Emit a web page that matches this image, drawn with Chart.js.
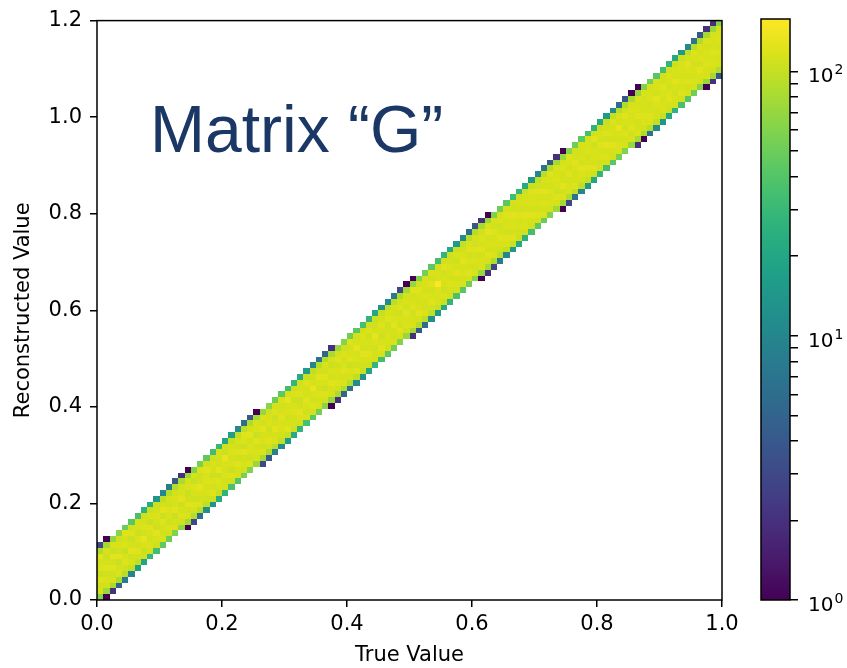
<!DOCTYPE html>
<html>
<head>
<meta charset="utf-8">
<script src="https://cdn.jsdelivr.net/npm/chart.js@4.4.1/dist/chart.umd.min.js"></script>
<style>
  html, body { margin: 0; padding: 0; background: #fff; }
  #stage { position: relative; width: 847px; height: 668px; overflow: hidden; }
  #stage canvas { position: absolute; top: 0; }
  #hist { left: 0; }
  #cbar { left: 722px; }
  #label {
    position: absolute; left: 150px; top: 96px;
    font-family: 'Liberation Sans', Arial, sans-serif; font-size: 66px;
    line-height: 1; color: #1b3766; white-space: nowrap;
  }
</style>
</head>
<body>
<div id="stage">
  <canvas id="hist" width="847" height="668"></canvas>
  <canvas id="cbar" width="125" height="668"></canvas>
  <div id="label">Matrix “G”</div>
</div>
<script>
// ---- binning ----
const xRange = [0, 1.0];
const yRange = [0, 1.2];
const nBinsX = 100;
const nBinsY = 100;

// ---- axis ticks ----
const xTicks = [0, 0.2, 0.4, 0.6, 0.8, 1.0];
const yTicks = [0, 0.2, 0.4, 0.6, 0.8, 1.0, 1.2];
const cbarMajor = [1, 10, 100];
const cbarExponents = ['0', '1', '2'];
const cbarMinor = [2, 3, 4, 5, 6, 7, 8, 9, 20, 30, 40, 50, 60, 70, 80, 90];

// first filled reco bin for each true-value column
const colStartRow = [
  0, 0, 1, 2, 3, 4, 5, 6, 7, 8, 9, 10,
  11, 11, 12, 13, 14, 15, 16, 17, 18, 19, 20, 21,
  22, 22, 23, 24, 25, 26, 27, 28, 29, 30, 31, 32,
  33, 33, 34, 35, 36, 37, 38, 39, 40, 41, 42, 43,
  44, 44, 45, 46, 47, 48, 49, 50, 51, 52, 53, 54,
  55, 55, 56, 57, 58, 59, 60, 61, 62, 63, 64, 65,
  66, 66, 67, 68, 69, 70, 71, 72, 73, 74, 75, 76,
  77, 77, 78, 79, 80, 81, 82, 83, 84, 85, 86, 87,
  88, 88, 89, 90
];

// entries per bin, going up the column from colStartRow
const colCounts = [
  [62, 116, 110, 121, 105, 117, 112, 125, 83, 3],
  [1, 73, 111, 118, 108, 122, 113, 104, 116, 76, 1],
  [2, 80, 114, 107, 121, 111, 127, 105, 115, 68, 0],
  [5, 84, 117, 112, 104, 124, 110, 116, 108, 63],
  [8, 89, 110, 120, 114, 102, 117, 112, 123, 49],
  [10, 100, 115, 108, 125, 113, 105, 119, 110, 41],
  [17, 99, 112, 122, 110, 117, 106, 114, 116, 36],
  [19, 109, 104, 116, 129, 110, 119, 112, 107, 26],
  [29, 112, 118, 109, 114, 123, 103, 115, 102, 23],
  [33, 108, 114, 125, 106, 111, 118, 110, 105, 14],
  [45, 115, 110, 113, 121, 104, 126, 111, 94, 10],
  [50, 110, 120, 107, 115, 118, 108, 113, 89, 8],
  [58, 117, 113, 105, 124, 112, 116, 110, 87, 4],
  [0, 68, 109, 119, 113, 106, 125, 115, 111, 81, 2],
  [1, 76, 116, 111, 123, 110, 104, 118, 112, 73, 1],
  [3, 87, 112, 122, 107, 114, 119, 103, 115, 59],
  [6, 94, 119, 110, 115, 128, 111, 107, 117, 54],
  [12, 95, 108, 116, 112, 120, 114, 124, 110, 45],
  [14, 105, 122, 111, 117, 106, 113, 116, 108, 33],
  [23, 103, 114, 119, 104, 125, 111, 109, 112, 29],
  [26, 113, 110, 117, 112, 114, 133, 105, 109, 19],
  [37, 109, 120, 106, 116, 111, 118, 113, 100, 17],
  [40, 116, 112, 123, 108, 119, 107, 115, 99, 11],
  [54, 111, 115, 110, 126, 105, 117, 121, 94, 6],
  [59, 119, 107, 114, 118, 111, 124, 113, 85, 4],
  [0, 72, 113, 116, 110, 121, 105, 117, 114, 77, 1],
  [3, 78, 118, 108, 115, 112, 125, 110, 117, 70, 0],
  [4, 83, 111, 123, 113, 107, 118, 115, 109, 64],
  [9, 91, 116, 112, 126, 110, 105, 120, 113, 50],
  [11, 98, 110, 118, 114, 122, 116, 109, 115, 44],
  [16, 101, 124, 113, 107, 118, 112, 130, 113, 34],
  [22, 107, 112, 110, 120, 114, 106, 117, 105, 28],
  [27, 111, 118, 125, 110, 104, 119, 112, 108, 22],
  [35, 114, 108, 115, 122, 112, 110, 123, 102, 16],
  [42, 110, 121, 111, 114, 134, 113, 107, 96, 10],
  [53, 115, 113, 119, 109, 116, 124, 111, 90, 7],
  [63, 112, 118, 106, 114, 121, 110, 116, 87, 5],
  [1, 70, 115, 112, 126, 111, 117, 106, 113, 80, 2],
  [2, 81, 110, 120, 113, 116, 108, 123, 111, 72, 0],
  [5, 85, 117, 109, 121, 114, 111, 118, 107, 62],
  [7, 90, 113, 118, 106, 123, 116, 110, 120, 51],
  [11, 96, 120, 110, 117, 112, 127, 113, 111, 42],
  [13, 103, 109, 116, 125, 110, 114, 118, 110, 35],
  [20, 108, 116, 123, 112, 115, 107, 119, 111, 27],
  [28, 110, 113, 109, 118, 129, 112, 108, 104, 20],
  [34, 113, 125, 114, 108, 116, 120, 111, 103, 13],
  [44, 111, 114, 118, 112, 107, 122, 115, 98, 11],
  [51, 116, 110, 113, 124, 117, 111, 114, 93, 8],
  [60, 114, 121, 111, 116, 108, 119, 113, 84, 3],
  [0, 72, 110, 118, 114, 122, 110, 116, 112, 78, 1],
  [2, 79, 116, 113, 109, 119, 115, 111, 126, 69, 1],
  [4, 87, 112, 124, 116, 110, 114, 121, 109, 60],
  [6, 93, 118, 111, 113, 117, 110, 116, 114, 53],
  [12, 97, 109, 121, 115, 111, 123, 108, 116, 43],
  [16, 102, 116, 114, 119, 158, 112, 115, 110, 34],
  [21, 105, 119, 108, 113, 117, 111, 125, 109, 27],
  [27, 109, 112, 120, 110, 114, 117, 110, 107, 21],
  [36, 112, 115, 110, 123, 113, 107, 118, 101, 15],
  [41, 114, 111, 116, 112, 126, 115, 110, 97, 11],
  [52, 112, 123, 113, 118, 110, 121, 114, 91, 6],
  [62, 115, 110, 117, 113, 120, 109, 112, 87, 4],
  [1, 69, 117, 114, 111, 125, 113, 118, 110, 80, 2],
  [2, 77, 113, 121, 109, 115, 112, 128, 114, 72, 1],
  [3, 86, 118, 110, 116, 113, 120, 109, 115, 58],
  [8, 92, 111, 116, 122, 112, 108, 117, 113, 52],
  [10, 99, 114, 119, 110, 116, 113, 123, 112, 42],
  [15, 104, 121, 111, 117, 114, 126, 111, 110, 32],
  [22, 106, 110, 115, 112, 120, 110, 116, 108, 28],
  [25, 111, 117, 114, 124, 109, 115, 113, 105, 22],
  [34, 110, 112, 122, 111, 117, 114, 119, 102, 14],
  [43, 113, 119, 110, 115, 112, 123, 108, 95, 10],
  [49, 117, 111, 118, 113, 127, 111, 116, 92, 7],
  [61, 111, 116, 112, 119, 110, 115, 121, 86, 4],
  [0, 74, 112, 120, 108, 115, 118, 113, 116, 76, 2],
  [1, 79, 118, 111, 124, 113, 110, 117, 112, 71, 1],
  [3, 85, 114, 116, 112, 122, 109, 115, 119, 62],
  [7, 95, 120, 113, 110, 118, 125, 112, 109, 51],
  [10, 96, 112, 117, 123, 111, 116, 113, 113, 43],
  [15, 102, 115, 121, 113, 110, 118, 114, 112, 35],
  [20, 107, 122, 111, 116, 114, 108, 124, 109, 26],
  [28, 109, 110, 118, 112, 120, 113, 116, 106, 20],
  [33, 112, 118, 113, 125, 109, 119, 111, 103, 16],
  [42, 110, 113, 123, 111, 116, 112, 118, 98, 11],
  [53, 114, 118, 112, 115, 131, 110, 114, 90, 6],
  [59, 116, 112, 119, 109, 114, 122, 111, 86, 4],
  [0, 71, 114, 111, 121, 116, 112, 118, 113, 79, 1],
  [2, 80, 119, 113, 109, 123, 115, 112, 117, 70, 1],
  [1, 84, 111, 117, 120, 112, 116, 110, 114, 60],
  [7, 91, 117, 122, 112, 109, 118, 115, 112, 52],
  [11, 98, 113, 110, 118, 124, 111, 116, 114, 41],
  [14, 103, 118, 116, 112, 114, 121, 109, 111, 34],
  [21, 108, 112, 123, 117, 111, 115, 119, 109, 27],
  [26, 110, 116, 111, 114, 126, 112, 115, 107, 21],
  [35, 111, 121, 113, 118, 112, 116, 114, 102, 15],
  [41, 115, 110, 120, 113, 117, 124, 112, 96, 11],
  [51, 113, 118, 112, 116, 111, 114, 122, 91, 7],
  [62, 112, 115, 125, 111, 118, 113, 116, 85, 4],
  [1, 72, 116, 112, 119, 114, 117, 111, 118, 79, 2],
  [2, 78, 111, 118, 114, 122, 112, 116, 113, 72, 2],
  [4, 86, 115, 113, 120, 110, 117, 114, 112, 62]
];

// viridis, sampled at 17 evenly spaced points
const viridisStops = [
  '#440154', '#48186a', '#472d7b', '#424086', '#3b528b', '#33638d',
  '#2c728e', '#26828e', '#21918c', '#1fa088', '#28ae80', '#3fbc73',
  '#5ec962', '#84d44b', '#addc30', '#d8e219', '#fde725'
];

const binW = (xRange[1] - xRange[0]) / nBinsX;
const binH = (yRange[1] - yRange[0]) / nBinsY;

// one point per non-empty bin, at the bin centre
const cells = [];
colCounts.forEach((col, c) => {
  col.forEach((n, i) => {
    if (n > 0) {
      cells.push({
        x: xRange[0] + (c + 0.5) * binW,
        y: yRange[0] + (colStartRow[c] + i + 0.5) * binH,
        v: n
      });
    }
  });
});
const vmin = Math.min(...cells.map(d => d.v));
const vmax = Math.max(...cells.map(d => d.v));

const rgbStops = viridisStops.map(h => [1, 3, 5].map(k => parseInt(h.substr(k, 2), 16)));
function viridis(t) {
  t = Math.max(0, Math.min(1, t));
  const f = t * (rgbStops.length - 1);
  const i = Math.min(Math.floor(f), rgbStops.length - 2);
  const u = f - i;
  const a = rgbStops[i], b = rgbStops[i + 1];
  const c = a.map((v, k) => Math.round(v + (b[k] - v) * u));
  return `rgb(${c[0]},${c[1]},${c[2]})`;
}
function logNorm(v) {
  return (Math.log(v) - Math.log(vmin)) / (Math.log(vmax) - Math.log(vmin));
}

Chart.defaults.font.family = "'DejaVu Sans', sans-serif";
Chart.defaults.font.size = 21;
Chart.defaults.color = '#000';

// paints every bin as a rectangle spanning its edges on the x/y scales
const heatmapPlugin = {
  id: 'heatmap',
  beforeDatasetsDraw(chart) {
    const { ctx, chartArea: a } = chart;
    const xs = chart.scales.x, ys = chart.scales.y;
    ctx.save();
    ctx.beginPath();
    ctx.rect(a.left, a.top, a.width, a.height);
    ctx.clip();
    chart.data.datasets[0].data.forEach(d => {
      const x0 = Math.round(xs.getPixelForValue(d.x - binW / 2));
      const x1 = Math.round(xs.getPixelForValue(d.x + binW / 2));
      const y0 = Math.round(ys.getPixelForValue(d.y - binH / 2));
      const y1 = Math.round(ys.getPixelForValue(d.y + binH / 2));
      ctx.fillStyle = viridis(logNorm(d.v));
      ctx.fillRect(x0, y1, x1 - x0, y0 - y1);
    });
    ctx.restore();
  }
};

// box around the plotting area
const framePlugin = {
  id: 'frame',
  afterDraw(chart) {
    const { ctx, chartArea: a } = chart;
    ctx.save();
    ctx.strokeStyle = '#000';
    ctx.lineWidth = 1.5;
    ctx.strokeRect(a.left, a.top, a.width, a.height);
    ctx.restore();
  }
};

new Chart(document.getElementById('hist'), {
  type: 'scatter',
  data: { datasets: [{ data: cells, pointRadius: 0, pointHoverRadius: 0 }] },
  options: {
    responsive: false,
    animation: false,
    devicePixelRatio: 1,
    events: [],
    layout: { padding: { top: 19, right: 125, bottom: 0, left: 0 } },
    plugins: { legend: { display: false }, tooltip: { enabled: false } },
    scales: {
      x: {
        type: 'linear', min: xRange[0], max: xRange[1],
        afterBuildTicks: s => { s.ticks = xTicks.map(v => ({ value: v })); },
        afterFit: s => { s.height = 68; },
        ticks: { callback: v => v.toFixed(1), padding: 5, maxRotation: 0, autoSkip: false },
        grid: { drawOnChartArea: false, tickLength: 7, color: '#000', lineWidth: 1.5 },
        border: { display: false },
        title: { display: true, text: 'True Value', padding: { top: 0, bottom: 0 } }
      },
      y: {
        type: 'linear', min: yRange[0], max: yRange[1],
        afterBuildTicks: s => { s.ticks = yTicks.map(v => ({ value: v })); },
        afterFit: s => { s.width = 97; },
        ticks: { callback: v => v.toFixed(1), padding: 8, autoSkip: false },
        grid: { drawOnChartArea: false, tickLength: 7, color: '#000', lineWidth: 1.5 },
        border: { display: false },
        title: { display: true, text: 'Reconstructed Value', padding: { top: 11, bottom: 0 } }
      }
    }
  },
  plugins: [heatmapPlugin, framePlugin]
});

// colour scale: gradient laid out along the log axis, outline and 10^n labels
const colorbarPlugin = {
  id: 'colorbar',
  beforeDatasetsDraw(chart) {
    const { ctx, chartArea: a } = chart;
    const ys = chart.scales.y;
    const g = ctx.createLinearGradient(0, ys.getPixelForValue(vmin), 0, ys.getPixelForValue(vmax));
    viridisStops.forEach((c, i) => g.addColorStop(i / (viridisStops.length - 1), c));
    ctx.save();
    ctx.fillStyle = g;
    ctx.fillRect(a.left, a.top, a.width, a.height);
    ctx.restore();
  },
  afterDraw(chart) {
    const { ctx, chartArea: a } = chart;
    const ys = chart.scales.y;
    ctx.save();
    ctx.strokeStyle = '#000';
    ctx.lineWidth = 1.5;
    ctx.strokeRect(a.left, a.top, a.width, a.height);
    ctx.fillStyle = '#000';
    ctx.textBaseline = 'alphabetic';
    cbarMajor.forEach((v, k) => {
      const py = ys.getPixelForValue(v);
      const x0 = a.right + 18;
      ctx.font = "20px 'DejaVu Sans'";
      ctx.fillText('10', x0, py + 11);
      const w = ctx.measureText('10').width;
      ctx.font = "14px 'DejaVu Sans'";
      ctx.fillText(cbarExponents[k], x0 + w + 1, py + 3);
    });
    ctx.restore();
  }
};

new Chart(document.getElementById('cbar'), {
  type: 'scatter',
  data: { datasets: [{ data: [] }] },
  options: {
    responsive: false,
    animation: false,
    devicePixelRatio: 1,
    events: [],
    layout: { padding: { top: 19, right: 0, bottom: 68, left: 39 } },
    plugins: { legend: { display: false }, tooltip: { enabled: false } },
    scales: {
      x: { display: false, min: 0, max: 1 },
      y: {
        type: 'logarithmic', position: 'right', min: vmin, max: vmax,
        afterBuildTicks: s => {
          s.ticks = [...cbarMajor, ...cbarMinor].sort((a, b) => a - b).map(v => ({ value: v }));
        },
        afterFit: s => { s.width = 57; },
        ticks: { autoSkip: false, callback: () => '' },
        grid: { drawOnChartArea: false, tickLength: 8, color: '#000', lineWidth: 1.5 },
        border: { display: false }
      }
    }
  },
  plugins: [colorbarPlugin]
});
</script>
</body>
</html>
